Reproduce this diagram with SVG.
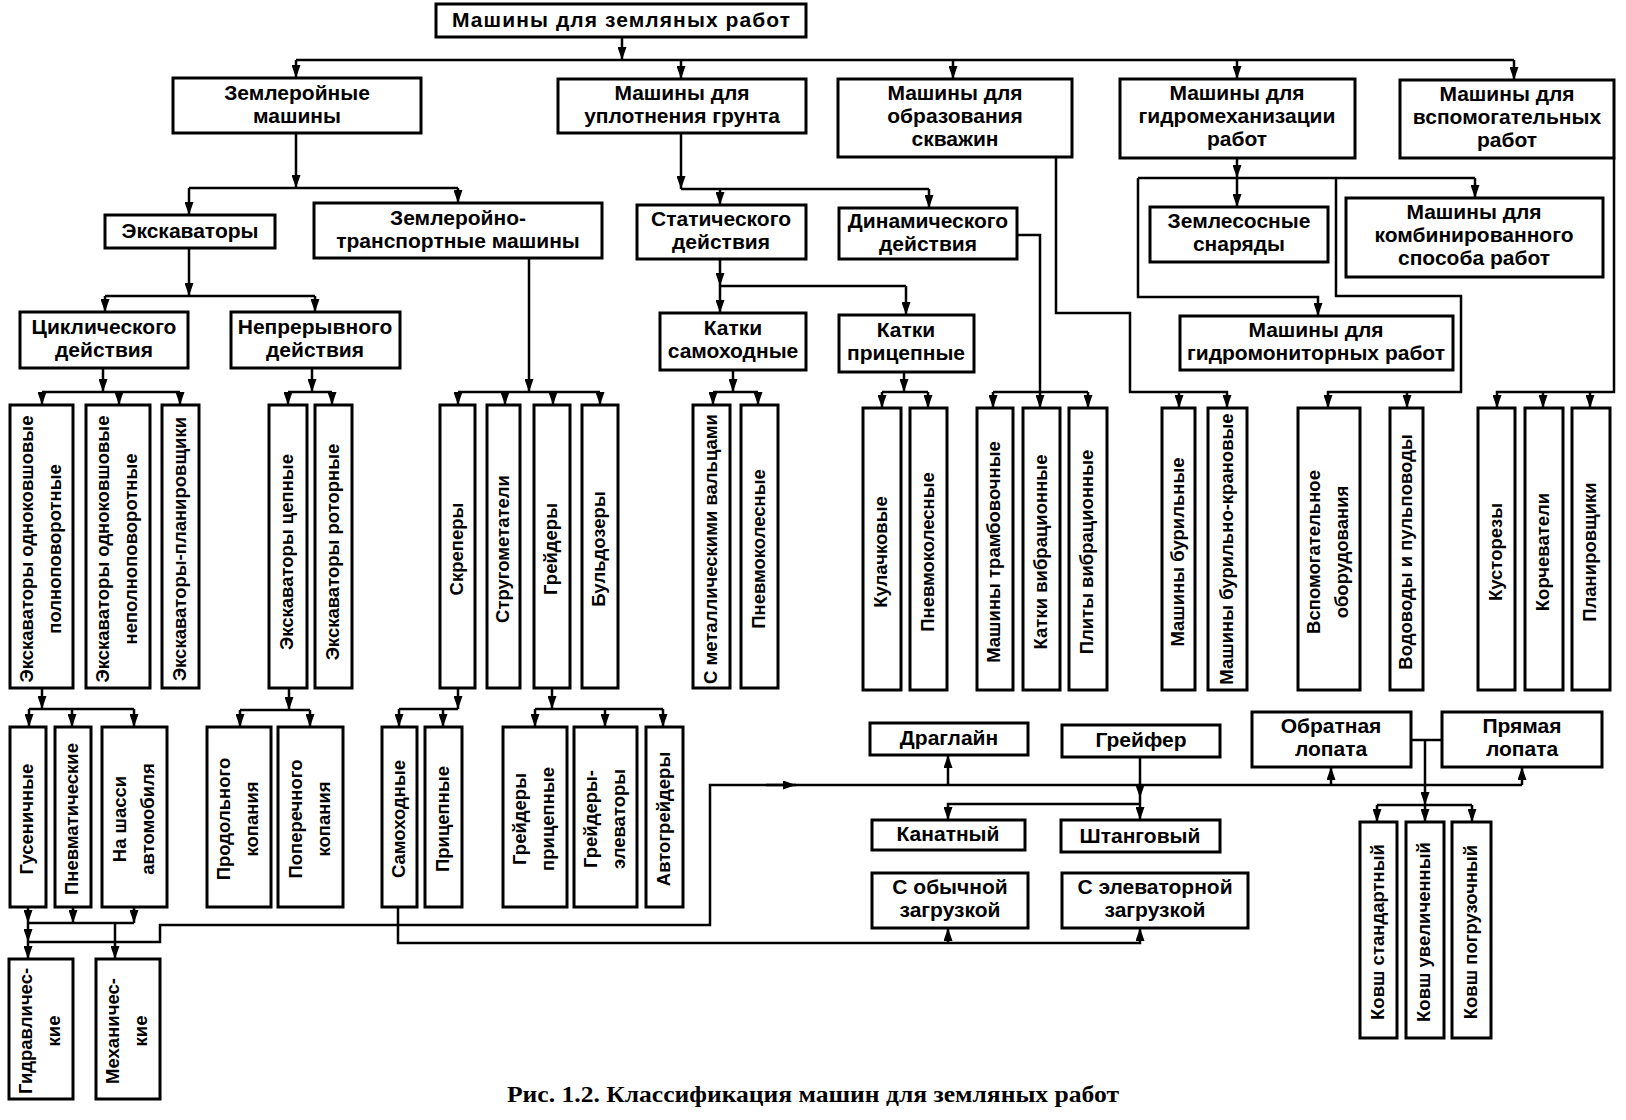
<svg xmlns="http://www.w3.org/2000/svg" width="1626" height="1120" viewBox="0 0 1626 1120">
<style>
.b{fill:#fff;stroke:#000;stroke-width:3}
.t{font-family:"Liberation Sans",Arial,sans-serif;font-weight:bold;font-size:21px;text-anchor:middle;fill:#000}
.v{font-size:18.5px}
.c{fill:none;stroke:#000;stroke-width:2.5}
.a{marker-end:url(#ar)}
.cap{font-family:"Liberation Serif","Times New Roman",serif;font-weight:bold;font-size:24px;text-anchor:middle}
</style>
<defs>
<marker id="ar" viewBox="0 0 13 9" refX="13" refY="4.5" markerWidth="13" markerHeight="9" markerUnits="userSpaceOnUse" orient="auto"><path d="M0,0 L13,4.5 L0,9 z" fill="#000"/></marker>
</defs>
<rect width="1626" height="1120" fill="#fff"/>

<g id="connectors">
<path class="c a" d="M622,37 V60"/>
<path class="c" d="M296,60 H1514"/>
<path class="c a" d="M296,60 V78"/>
<path class="c a" d="M681,60 V79"/>
<path class="c a" d="M953,60 V79"/>
<path class="c a" d="M1237,60 V79"/>
<path class="c a" d="M1514,60 V80"/>

<path class="c a" d="M296,133 V188"/>
<path class="c" d="M189,188 H458"/>
<path class="c a" d="M189,188 V215"/>
<path class="c a" d="M458,188 V203"/>

<path class="c a" d="M681,133 V189"/>
<path class="c" d="M681,189 H929"/>
<path class="c a" d="M720,189 V205"/>
<path class="c a" d="M929,189 V208"/>

<path class="c a" d="M1056,157 V313 H1130 V392 H1227 V408"/>
<path class="c a" d="M1179,392 V408"/>

<path class="c a" d="M1237,158 V178"/>
<path class="c a" d="M1237,178 V207"/>
<path class="c" d="M1138,178 H1475"/>
<path class="c a" d="M1475,178 V198"/>
<path class="c a" d="M1138,178 V297 H1318 V316"/>
<path class="c a" d="M1336,178 V296 H1461 V392 H1328 V408"/>
<path class="c a" d="M1407,392 V408"/>

<path class="c a" d="M1614,158 V392 H1497 V408"/>
<path class="c a" d="M1543,392 V408"/>
<path class="c a" d="M1590,392 V408"/>

<path class="c a" d="M189,248 V296"/>
<path class="c" d="M105,296 H315"/>
<path class="c a" d="M105,296 V312"/>
<path class="c a" d="M315,296 V312"/>

<path class="c a" d="M720,259 V286"/>
<path class="c" d="M720,286 H906"/>
<path class="c a" d="M720,286 V313"/>
<path class="c a" d="M906,286 V315"/>

<path class="c a" d="M1017,235 H1040 V408"/>
<path class="c" d="M993,392 H1088"/>
<path class="c a" d="M993,392 V408"/>
<path class="c a" d="M1088,392 V408"/>

<path class="c a" d="M529,258 V392"/>
<path class="c" d="M458,392 H600"/>
<path class="c a" d="M458,392 V405"/>
<path class="c a" d="M505,392 V405"/>
<path class="c a" d="M553,392 V405"/>
<path class="c a" d="M600,392 V405"/>

<path class="c a" d="M103,368 V392"/>
<path class="c" d="M42,392 H180"/>
<path class="c a" d="M42,392 V405"/>
<path class="c a" d="M119,392 V405"/>
<path class="c a" d="M180,392 V405"/>

<path class="c a" d="M312,368 V392"/>
<path class="c" d="M288,392 H332"/>
<path class="c a" d="M288,392 V405"/>
<path class="c a" d="M332,392 V405"/>

<path class="c a" d="M733,370 V392"/>
<path class="c" d="M713,392 H758"/>
<path class="c a" d="M713,392 V405"/>
<path class="c a" d="M758,392 V405"/>

<path class="c a" d="M904,372 V392"/>
<path class="c" d="M882,392 H928"/>
<path class="c a" d="M882,392 V408"/>
<path class="c a" d="M928,392 V408"/>

<path class="c a" d="M42,688 V709"/>
<path class="c" d="M29,709 H134"/>
<path class="c a" d="M29,709 V727"/>
<path class="c a" d="M72,709 V727"/>
<path class="c a" d="M134,709 V727"/>

<path class="c a" d="M289,688 V710"/>
<path class="c" d="M240,710 H310"/>
<path class="c a" d="M240,710 V727"/>
<path class="c a" d="M310,710 V727"/>

<path class="c a" d="M458,688 V709"/>
<path class="c" d="M399,709 H458"/>
<path class="c a" d="M399,709 V727"/>
<path class="c a" d="M443,709 V727"/>

<path class="c a" d="M552,688 V709"/>
<path class="c" d="M535,709 H663"/>
<path class="c a" d="M535,709 V727"/>
<path class="c a" d="M605,709 V727"/>
<path class="c a" d="M663,709 V727"/>

<path class="c a" d="M28,907 V923"/>
<path class="c a" d="M73,907 V923"/>
<path class="c a" d="M134,907 V923"/>
<path class="c" d="M28,923 H134"/>
<path class="c a" d="M28,923 V942"/>
<path class="c a" d="M28,942 V959"/>
<path class="c a" d="M115,923 V959"/>
<path class="c" d="M28,942 H160 V925 H710 V785 H1522"/>
<path class="c a" d="M766,785 H796"/>
<path class="c a" d="M948,785 V755"/>
<path class="c a" d="M1331,785 V767"/>
<path class="c a" d="M1522,785 V767"/>

<path class="c a" d="M1140,757 V798"/>
<path class="c a" d="M1140,798 V820"/>
<path class="c a" d="M1140,804 H948 V820"/>

<path class="c a" d="M398,907 V943 H1140 V928"/>
<path class="c a" d="M948,943 V928"/>

<path class="c" d="M1411,740 H1442"/>
<path class="c a" d="M1425,740 V805"/>
<path class="c" d="M1377,805 H1472"/>
<path class="c a" d="M1377,805 V822"/>
<path class="c a" d="M1425,805 V822"/>
<path class="c a" d="M1472,805 V822"/>
</g>

<g id="n0"><rect class="b" x="436" y="4" width="370" height="33"/><text class="t" x="621" y="27" textLength="338" lengthAdjust="spacing">Машины для земляных работ</text></g>

<g id="zem"><rect class="b" x="173" y="78" width="248" height="55"/><text class="t"><tspan x="297" y="100">Землеройные</tspan><tspan x="297" y="123">машины</tspan></text></g>
<g id="upl"><rect class="b" x="558" y="79" width="248" height="54"/><text class="t"><tspan x="682" y="100">Машины для</tspan><tspan x="682" y="123">уплотнения грунта</tspan></text></g>
<g id="skv"><rect class="b" x="838" y="79" width="234" height="78"/><text class="t"><tspan x="955" y="100">Машины для</tspan><tspan x="955" y="123">образования</tspan><tspan x="955" y="146">скважин</tspan></text></g>
<g id="gidro"><rect class="b" x="1120" y="79" width="235" height="79"/><text class="t"><tspan x="1237" y="100">Машины для</tspan><tspan x="1237" y="123">гидромеханизации</tspan><tspan x="1237" y="146">работ</tspan></text></g>
<g id="vspom"><rect class="b" x="1400" y="80" width="214" height="78"/><text class="t"><tspan x="1507" y="101">Машины для</tspan><tspan x="1507" y="124">вспомогательных</tspan><tspan x="1507" y="147">работ</tspan></text></g>

<g id="exc"><rect class="b" x="105" y="215" width="170" height="33"/><text class="t" x="190" y="238">Экскаваторы</text></g>
<g id="zt"><rect class="b" x="314" y="203" width="288" height="55"/><text class="t"><tspan x="458" y="225">Землеройно-</tspan><tspan x="458" y="248">транспортные машины</tspan></text></g>
<g id="stat"><rect class="b" x="637" y="205" width="169" height="54"/><text class="t"><tspan x="721" y="226">Статического</tspan><tspan x="721" y="249">действия</tspan></text></g>
<g id="dyn"><rect class="b" x="839" y="208" width="178" height="51"/><text class="t"><tspan x="928" y="228">Динамического</tspan><tspan x="928" y="251">действия</tspan></text></g>
<g id="zs"><rect class="b" x="1150" y="207" width="178" height="55"/><text class="t"><tspan x="1239" y="228">Землесосные</tspan><tspan x="1239" y="251">снаряды</tspan></text></g>
<g id="komb"><rect class="b" x="1346" y="198" width="257" height="79"/><text class="t"><tspan x="1474" y="219">Машины для</tspan><tspan x="1474" y="242">комбинированного</tspan><tspan x="1474" y="265">способа работ</tspan></text></g>

<g id="cyc"><rect class="b" x="20" y="312" width="168" height="56"/><text class="t"><tspan x="104" y="334">Циклического</tspan><tspan x="104" y="357">действия</tspan></text></g>
<g id="cont"><rect class="b" x="231" y="312" width="169" height="56"/><text class="t"><tspan x="315" y="334">Непрерывного</tspan><tspan x="315" y="357">действия</tspan></text></g>
<g id="ks"><rect class="b" x="660" y="313" width="146" height="57"/><text class="t"><tspan x="733" y="335">Катки</tspan><tspan x="733" y="358">самоходные</tspan></text></g>
<g id="kp"><rect class="b" x="839" y="315" width="135" height="57"/><text class="t"><tspan x="906" y="337">Катки</tspan><tspan x="906" y="360">прицепные</tspan></text></g>
<g id="gm"><rect class="b" x="1180" y="316" width="273" height="54"/><text class="t"><tspan x="1316" y="337">Машины для</tspan><tspan x="1316" y="360">гидромониторных работ</tspan></text></g>

<g id="v1"><rect class="b" x="10" y="405" width="63" height="283"/><text class="t v" transform="translate(41.5,549) rotate(-90)"><tspan x="0" y="-9">Экскаваторы одноковшовые</tspan><tspan x="0" y="19">полноповоротные</tspan></text></g>
<g id="v2"><rect class="b" x="86" y="405" width="64" height="283"/><text class="t v" transform="translate(118,549) rotate(-90)"><tspan x="0" y="-9">Экскаваторы одноковшовые</tspan><tspan x="0" y="19">неполноповоротные</tspan></text></g>
<g id="v3"><rect class="b" x="162" y="405" width="37" height="283"/><text class="t v" transform="translate(180.5,549) rotate(-90)" x="0" y="5">Экскаваторы-планировщики</text></g>
<g id="v4"><rect class="b" x="269" y="405" width="38" height="283"/><text class="t v" transform="translate(288,552) rotate(-90)" x="0" y="5">Экскаваторы цепные</text></g>
<g id="v5"><rect class="b" x="315" y="405" width="37" height="283"/><text class="t v" transform="translate(333.5,552) rotate(-90)" x="0" y="5">Экскаваторы роторные</text></g>
<g id="v6"><rect class="b" x="440" y="405" width="35" height="283"/><text class="t v" transform="translate(457.5,549) rotate(-90)" x="0" y="5">Скреперы</text></g>
<g id="v7"><rect class="b" x="487" y="405" width="33" height="283"/><text class="t v" transform="translate(503.5,549) rotate(-90)" x="0" y="5">Стругометатели</text></g>
<g id="v8"><rect class="b" x="534" y="405" width="36" height="283"/><text class="t v" transform="translate(552,549) rotate(-90)" x="0" y="5">Грейдеры</text></g>
<g id="v9"><rect class="b" x="582" y="405" width="36" height="283"/><text class="t v" transform="translate(600,549) rotate(-90)" x="0" y="5">Бульдозеры</text></g>
<g id="v10"><rect class="b" x="693" y="405" width="37" height="283"/><text class="t v" transform="translate(711.5,549) rotate(-90)" x="0" y="5">С металлическими вальцами</text></g>
<g id="v11"><rect class="b" x="741" y="405" width="37" height="283"/><text class="t v" transform="translate(759.5,549) rotate(-90)" x="0" y="5">Пневмоколесные</text></g>
<g id="v12"><rect class="b" x="863" y="408" width="38" height="282"/><text class="t v" transform="translate(882,552) rotate(-90)" x="0" y="5">Кулачковые</text></g>
<g id="v13"><rect class="b" x="910" y="408" width="37" height="282"/><text class="t v" transform="translate(928.5,552) rotate(-90)" x="0" y="5">Пневмоколесные</text></g>
<g id="v14"><rect class="b" x="977" y="408" width="36" height="282"/><text class="t v" transform="translate(995,552) rotate(-90)" x="0" y="5">Машины трамбовочные</text></g>
<g id="v15"><rect class="b" x="1023" y="408" width="37" height="282"/><text class="t v" transform="translate(1041.5,552) rotate(-90)" x="0" y="5">Катки вибрационные</text></g>
<g id="v16"><rect class="b" x="1069" y="408" width="38" height="282"/><text class="t v" transform="translate(1088,552) rotate(-90)" x="0" y="5">Плиты вибрационные</text></g>
<g id="v17"><rect class="b" x="1162" y="408" width="33" height="282"/><text class="t v" transform="translate(1178.5,552) rotate(-90)" x="0" y="5">Машины бурильные</text></g>
<g id="v18"><rect class="b" x="1208" y="408" width="39" height="282"/><text class="t v" transform="translate(1227.5,549) rotate(-90)" x="0" y="5">Машины бурильно-крановые</text></g>
<g id="v19"><rect class="b" x="1298" y="408" width="62" height="282"/><text class="t v" transform="translate(1329,552) rotate(-90)"><tspan x="0" y="-9">Вспомогательное</tspan><tspan x="0" y="19">оборудования</tspan></text></g>
<g id="v20"><rect class="b" x="1390" y="408" width="33" height="282"/><text class="t v" transform="translate(1406.5,552) rotate(-90)" x="0" y="5">Водоводы и пульповоды</text></g>
<g id="v21"><rect class="b" x="1478" y="408" width="37" height="282"/><text class="t v" transform="translate(1496.5,552) rotate(-90)" x="0" y="5">Кусторезы</text></g>
<g id="v22"><rect class="b" x="1525" y="408" width="38" height="282"/><text class="t v" transform="translate(1544,552) rotate(-90)" x="0" y="5">Корчеватели</text></g>
<g id="v23"><rect class="b" x="1572" y="408" width="38" height="282"/><text class="t v" transform="translate(1591,552) rotate(-90)" x="0" y="5">Планировщики</text></g>

<g id="w1"><rect class="b" x="10" y="727" width="36" height="180"/><text class="t v" transform="translate(28,819) rotate(-90)" x="0" y="5">Гусеничные</text></g>
<g id="w2"><rect class="b" x="55" y="727" width="36" height="180"/><text class="t v" transform="translate(73,819) rotate(-90)" x="0" y="5">Пневматические</text></g>
<g id="w3"><rect class="b" x="102" y="727" width="65" height="180"/><text class="t v" transform="translate(134.5,819) rotate(-90)"><tspan x="0" y="-9">На шасси</tspan><tspan x="0" y="19">автомобиля</tspan></text></g>
<g id="w4"><rect class="b" x="207" y="727" width="64" height="180"/><text class="t v" transform="translate(239,819) rotate(-90)"><tspan x="0" y="-9">Продольного</tspan><tspan x="0" y="19">копания</tspan></text></g>
<g id="w5"><rect class="b" x="278" y="727" width="65" height="180"/><text class="t v" transform="translate(310.5,819) rotate(-90)"><tspan x="0" y="-9">Поперечного</tspan><tspan x="0" y="19">копания</tspan></text></g>
<g id="w6"><rect class="b" x="382" y="727" width="35" height="180"/><text class="t v" transform="translate(399.5,819) rotate(-90)" x="0" y="5">Самоходные</text></g>
<g id="w7"><rect class="b" x="425" y="727" width="37" height="180"/><text class="t v" transform="translate(443.5,819) rotate(-90)" x="0" y="5">Прицепные</text></g>
<g id="w8"><rect class="b" x="503" y="727" width="64" height="180"/><text class="t v" transform="translate(535,819) rotate(-90)"><tspan x="0" y="-9">Грейдеры</tspan><tspan x="0" y="19">прицепные</tspan></text></g>
<g id="w9"><rect class="b" x="574" y="727" width="63" height="180"/><text class="t v" transform="translate(605.5,819) rotate(-90)"><tspan x="0" y="-9">Грейдеры-</tspan><tspan x="0" y="19">элеваторы</tspan></text></g>
<g id="w10"><rect class="b" x="646" y="727" width="37" height="180"/><text class="t v" transform="translate(664.5,819) rotate(-90)" x="0" y="5">Автогрейдеры</text></g>

<g id="g1"><rect class="b" x="9" y="959" width="64" height="140"/><text class="t v" transform="translate(41,1031) rotate(-90)"><tspan x="0" y="-9">Гидравличес-</tspan><tspan x="0" y="19">кие</tspan></text></g>
<g id="g2"><rect class="b" x="96" y="959" width="64" height="140"/><text class="t v" transform="translate(128,1031) rotate(-90)"><tspan x="0" y="-9">Механичес-</tspan><tspan x="0" y="19">кие</tspan></text></g>

<g id="drag"><rect class="b" x="870" y="723" width="158" height="32"/><text class="t" x="949" y="745">Драглайн</text></g>
<g id="grf"><rect class="b" x="1062" y="725" width="158" height="32"/><text class="t" x="1141" y="747">Грейфер</text></g>
<g id="kan"><rect class="b" x="872" y="820" width="153" height="30"/><text class="t" x="948" y="841">Канатный</text></g>
<g id="sht"><rect class="b" x="1061" y="820" width="159" height="32"/><text class="t" x="1140" y="843">Штанговый</text></g>
<g id="obych"><rect class="b" x="872" y="873" width="156" height="55"/><text class="t"><tspan x="950" y="894">С обычной</tspan><tspan x="950" y="917">загрузкой</tspan></text></g>
<g id="elev"><rect class="b" x="1062" y="873" width="186" height="55"/><text class="t"><tspan x="1155" y="894">С элеваторной</tspan><tspan x="1155" y="917">загрузкой</tspan></text></g>
<g id="obr"><rect class="b" x="1252" y="712" width="159" height="55"/><text class="t"><tspan x="1331" y="733">Обратная</tspan><tspan x="1331" y="756">лопата</tspan></text></g>
<g id="pr"><rect class="b" x="1442" y="712" width="160" height="55"/><text class="t"><tspan x="1522" y="733">Прямая</tspan><tspan x="1522" y="756">лопата</tspan></text></g>
<g id="k1"><rect class="b" x="1360" y="822" width="37" height="216"/><text class="t v" transform="translate(1378.5,932) rotate(-90)" x="0" y="5">Ковш стандартный</text></g>
<g id="k2"><rect class="b" x="1406" y="822" width="38" height="216"/><text class="t v" transform="translate(1425,932) rotate(-90)" x="0" y="5">Ковш увеличенный</text></g>
<g id="k3"><rect class="b" x="1452" y="822" width="39" height="216"/><text class="t v" transform="translate(1471.5,932) rotate(-90)" x="0" y="5">Ковш погрузочный</text></g>

<text class="cap" x="813" y="1102" textLength="612" lengthAdjust="spacingAndGlyphs">Рис. 1.2. Классификация машин для земляных работ</text>
</svg>
